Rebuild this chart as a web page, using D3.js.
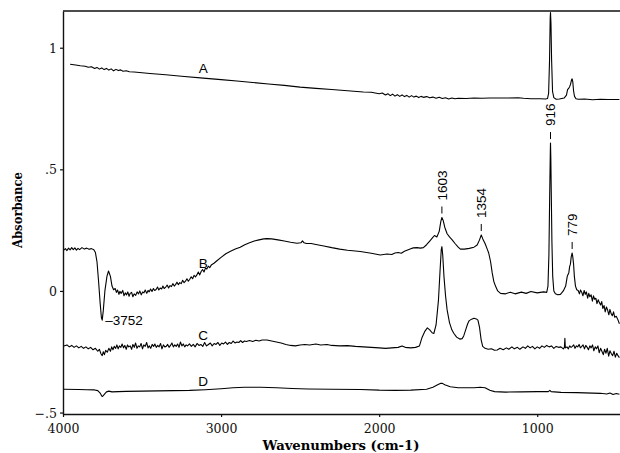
<!DOCTYPE html>
<html>
<head>
<meta charset="utf-8">
<script src="https://cdn.jsdelivr.net/npm/d3@7"></script>
<style>
  body { margin: 0; background: #fff; }
  svg { display: block; }
</style>
</head>
<body>
<svg></svg>
<script>
const width = 620,
      height = 453;

// spectra as [wavenumber, absorbance] pairs
const specA = [
  [3955,0.932],[3920,0.929],[3890,0.926],[3860,0.924],[3840,0.920],[3820,0.922],[3800,0.915],
  [3785,0.919],[3770,0.912],[3755,0.917],[3740,0.910],[3725,0.915],[3710,0.908],[3695,0.913],
  [3680,0.905],[3665,0.911],[3650,0.906],[3635,0.909],[3620,0.903],[3600,0.905],[3580,0.901],
  [3550,0.900],[3500,0.897],[3450,0.894],[3350,0.889],[3250,0.883],[3113,0.875],[3000,0.869],
  [2900,0.863],[2800,0.857],[2700,0.851],[2600,0.845],[2500,0.838],[2400,0.833],[2300,0.828],
  [2200,0.823],[2100,0.818],[2050,0.817],[2000,0.811],[1980,0.814],[1960,0.806],[1945,0.811],
  [1930,0.803],[1915,0.809],[1900,0.801],[1885,0.807],[1870,0.800],[1855,0.806],[1840,0.799],
  [1825,0.804],[1810,0.797],[1795,0.803],[1780,0.797],[1765,0.801],[1750,0.795],[1735,0.800],
  [1720,0.796],[1700,0.799],[1680,0.794],[1660,0.797],[1640,0.792],[1620,0.796],[1600,0.791],
  [1580,0.794],[1560,0.789],[1540,0.793],[1520,0.790],[1500,0.792],[1450,0.791],[1400,0.793],
  [1350,0.792],[1300,0.793],[1200,0.793],[1120,0.794],[1087,0.792],[1040,0.790],[980,0.790],
  [947,0.789],[935,0.791],[928,0.812],[922,0.950],[918,1.120],[916,1.145],[913,1.100],
  [909,0.950],[903,0.820],[895,0.795],[880,0.788],[860,0.789],[830,0.793],[815,0.805],
  [808,0.828],[800,0.834],[795,0.840],[789,0.850],[783,0.868],[779,0.872],[775,0.860],
  [770,0.822],[764,0.800],[755,0.790],[740,0.788],[700,0.789],[650,0.786],[600,0.788],
  [550,0.787],[480,0.787]
];

const specB = [
  [3995,0.168],[3985,0.174],[3975,0.166],[3965,0.176],[3955,0.169],[3945,0.178],[3935,0.170],
  [3925,0.177],[3915,0.168],[3905,0.175],[3895,0.170],[3880,0.178],[3865,0.172],[3850,0.176],
  [3835,0.171],[3820,0.174],[3805,0.169],[3795,0.158],[3785,0.120],[3775,0.040],[3765,-0.050],
  [3757,-0.110],[3752,-0.120],[3745,-0.080],[3735,0.000],[3722,0.060],[3712,0.082],[3700,0.060],
  [3690,0.020],[3680,0.005],[3670,0.010],[3662,-0.006],[3655,0.004],[3646,-0.014],[3640,-0.002],
  [3632,-0.010],[3622,0.002],[3614,-0.020],[3606,-0.008],[3598,-0.016],[3590,-0.004],[3582,-0.022],
  [3575,-0.010],[3566,-0.006],[3558,-0.024],[3550,-0.012],[3540,-0.018],[3531,-0.004],[3522,-0.012],
  [3514,0.000],[3505,-0.016],[3496,-0.004],[3488,-0.008],[3480,0.004],[3470,-0.010],[3462,0.002],
  [3455,-0.004],[3446,0.008],[3437,-0.002],[3428,0.010],[3420,0.002],[3411,0.006],[3402,0.016],
  [3394,0.004],[3385,0.012],[3376,0.008],[3368,0.020],[3360,0.010],[3350,0.016],[3341,0.024],
  [3332,0.012],[3323,0.022],[3314,0.018],[3305,0.030],[3296,0.020],[3288,0.026],[3279,0.036],
  [3270,0.026],[3261,0.034],[3252,0.030],[3243,0.044],[3234,0.034],[3225,0.040],[3216,0.050],
  [3207,0.040],[3198,0.048],[3189,0.058],[3180,0.050],[3171,0.064],[3162,0.058],[3153,0.066],
  [3144,0.078],[3135,0.066],[3126,0.080],[3117,0.088],[3108,0.078],[3099,0.094],[3090,0.090],
  [3081,0.102],[3072,0.096],[3060,0.108],[3045,0.114],[3030,0.122],[3000,0.138],[2970,0.153],
  [2940,0.163],[2910,0.172],[2879,0.180],[2850,0.190],[2820,0.198],[2790,0.205],[2760,0.210],
  [2730,0.214],[2710,0.215],[2680,0.214],[2640,0.210],[2600,0.205],[2560,0.200],[2520,0.196],
  [2495,0.198],[2485,0.206],[2475,0.198],[2460,0.195],[2430,0.195],[2400,0.191],[2350,0.185],
  [2300,0.178],[2250,0.172],[2200,0.167],[2119,0.162],[2050,0.155],[1993,0.148],[1950,0.152],
  [1920,0.150],[1900,0.156],[1880,0.158],[1860,0.155],[1840,0.163],[1820,0.168],[1800,0.173],
  [1784,0.177],[1760,0.178],[1740,0.176],[1720,0.178],[1700,0.190],[1680,0.205],[1663,0.218],
  [1650,0.228],[1635,0.222],[1620,0.245],[1610,0.285],[1603,0.302],[1595,0.290],[1585,0.262],
  [1570,0.235],[1555,0.222],[1538,0.210],[1520,0.195],[1500,0.180],[1486,0.172],[1460,0.172],
  [1430,0.175],[1400,0.180],[1380,0.189],[1365,0.210],[1354,0.230],[1345,0.215],[1330,0.195],
  [1315,0.170],[1307,0.156],[1295,0.120],[1285,0.075],[1275,0.040],[1264,0.020],[1250,0.000],
  [1232,-0.010],[1200,-0.012],[1170,-0.005],[1140,-0.012],[1100,-0.005],[1070,-0.010],[1040,-0.002],
  [1000,-0.008],[960,-0.004],[940,-0.006],[932,0.020],[926,0.150],[921,0.400],[917,0.580],
  [916,0.608],[914,0.550],[911,0.400],[907,0.200],[902,0.060],[895,0.000],[885,-0.012],
  [870,-0.016],[853,-0.014],[835,0.000],[820,0.020],[810,0.060],[800,0.075],[795,0.100],
  [790,0.110],[785,0.140],[779,0.156],[775,0.140],[770,0.110],[765,0.060],[758,0.020],[750,0.005],
  [741,0.002],[733,-0.012],[726,0.004],[718,-0.006],[711,-0.020],[703,0.002],[696,-0.014],
  [689,-0.004],[681,-0.030],[674,-0.010],[667,-0.024],[659,-0.016],[651,-0.042],[644,-0.020],
  [637,-0.034],[629,-0.030],[622,-0.052],[614,-0.036],[607,-0.048],[599,-0.058],[592,-0.044],
  [585,-0.072],[577,-0.060],[570,-0.086],[562,-0.066],[555,-0.078],[547,-0.098],[540,-0.076],
  [532,-0.094],[525,-0.102],[517,-0.086],[510,-0.108],[500,-0.104],[490,-0.118],[480,-0.135]
];

const specC = [
  [3995,-0.226],[3975,-0.222],[3960,-0.230],[3945,-0.224],[3930,-0.232],[3915,-0.226],[3900,-0.234],
  [3885,-0.228],[3870,-0.236],[3855,-0.230],[3840,-0.238],[3825,-0.232],[3810,-0.242],[3795,-0.236],
  [3780,-0.248],[3770,-0.240],[3760,-0.258],[3752,-0.266],[3745,-0.250],[3738,-0.262],[3730,-0.244],
  [3720,-0.252],[3710,-0.236],[3700,-0.248],[3692,-0.230],[3684,-0.242],[3676,-0.228],[3667,-0.236],
  [3659,-0.222],[3651,-0.238],[3643,-0.226],[3634,-0.232],[3626,-0.218],[3617,-0.234],[3609,-0.224],
  [3600,-0.240],[3592,-0.222],[3584,-0.230],[3575,-0.226],[3566,-0.240],[3558,-0.220],[3549,-0.232],
  [3541,-0.214],[3532,-0.236],[3524,-0.226],[3515,-0.230],[3506,-0.216],[3497,-0.238],[3489,-0.222],
  [3480,-0.228],[3471,-0.212],[3462,-0.234],[3454,-0.226],[3445,-0.236],[3436,-0.220],[3427,-0.228],
  [3419,-0.218],[3410,-0.232],[3401,-0.224],[3392,-0.230],[3383,-0.216],[3374,-0.238],[3365,-0.222],
  [3356,-0.230],[3347,-0.228],[3338,-0.220],[3329,-0.232],[3320,-0.224],[3311,-0.214],[3302,-0.230],
  [3293,-0.222],[3284,-0.228],[3275,-0.218],[3266,-0.232],[3257,-0.210],[3248,-0.226],[3239,-0.218],
  [3230,-0.230],[3221,-0.222],[3212,-0.226],[3200,-0.218],[3188,-0.228],[3176,-0.220],[3164,-0.230],
  [3152,-0.216],[3140,-0.224],[3128,-0.220],[3116,-0.228],[3104,-0.212],[3092,-0.226],[3080,-0.220],
  [3068,-0.214],[3056,-0.226],[3044,-0.216],[3032,-0.220],[3020,-0.212],[3008,-0.224],[2996,-0.214],
  [2984,-0.218],[2972,-0.210],[2960,-0.220],[2948,-0.212],[2936,-0.216],[2924,-0.206],[2912,-0.214],
  [2900,-0.210],[2888,-0.212],[2876,-0.204],[2864,-0.212],[2852,-0.206],[2840,-0.208],[2820,-0.204],
  [2800,-0.208],[2780,-0.203],[2760,-0.206],[2740,-0.202],[2710,-0.202],[2680,-0.206],[2650,-0.210],
  [2620,-0.214],[2590,-0.220],[2560,-0.224],[2530,-0.226],[2500,-0.222],[2470,-0.220],[2440,-0.222],
  [2400,-0.218],[2370,-0.222],[2330,-0.220],[2300,-0.224],[2250,-0.226],[2200,-0.225],[2150,-0.228],
  [2100,-0.230],[2050,-0.232],[2000,-0.234],[1960,-0.236],[1920,-0.234],[1880,-0.232],[1855,-0.226],
  [1835,-0.232],[1800,-0.234],[1770,-0.232],[1745,-0.226],[1728,-0.190],[1710,-0.165],[1695,-0.152],
  [1680,-0.160],[1665,-0.172],[1654,-0.175],[1640,-0.140],[1625,-0.040],[1615,0.080],[1607,0.170],
  [1603,0.182],[1598,0.150],[1590,0.060],[1580,-0.020],[1570,-0.078],[1555,-0.130],[1540,-0.160],
  [1528,-0.174],[1510,-0.190],[1490,-0.198],[1475,-0.196],[1465,-0.185],[1450,-0.155],[1440,-0.135],
  [1430,-0.122],[1415,-0.116],[1400,-0.112],[1385,-0.115],[1375,-0.120],[1365,-0.150],[1355,-0.200],
  [1345,-0.228],[1330,-0.236],[1310,-0.240],[1290,-0.238],[1270,-0.244],[1253,-0.243],[1235,-0.236],
  [1215,-0.242],[1195,-0.234],[1180,-0.240],[1160,-0.230],[1145,-0.238],[1125,-0.232],[1110,-0.240],
  [1090,-0.230],[1075,-0.236],[1060,-0.226],[1045,-0.234],[1030,-0.228],[1015,-0.238],[1000,-0.230],
  [985,-0.236],[970,-0.226],[955,-0.232],[940,-0.224],[925,-0.230],[910,-0.226],[895,-0.236],
  [880,-0.228],[865,-0.232],[850,-0.230],[835,-0.238],[828,-0.232],[825,-0.195],[822,-0.234],
  [812,-0.230],[803,-0.238],[795,-0.226],[786,-0.232],[778,-0.228],[769,-0.222],[761,-0.236],
  [752,-0.226],[744,-0.230],[735,-0.220],[727,-0.234],[718,-0.228],[710,-0.222],[701,-0.238],
  [693,-0.224],[684,-0.232],[676,-0.242],[667,-0.226],[659,-0.234],[650,-0.222],[642,-0.246],
  [633,-0.230],[625,-0.238],[616,-0.226],[608,-0.254],[599,-0.236],[591,-0.248],[582,-0.262],
  [574,-0.240],[565,-0.256],[557,-0.236],[548,-0.268],[540,-0.246],[531,-0.258],[523,-0.266],
  [514,-0.248],[506,-0.272],[497,-0.256],[489,-0.266],[480,-0.274]
];

const specD = [
  [3995,-0.404],[3900,-0.405],[3850,-0.406],[3800,-0.407],[3780,-0.410],[3765,-0.420],[3755,-0.432],
  [3750,-0.434],[3740,-0.426],[3725,-0.415],[3710,-0.412],[3690,-0.415],[3650,-0.414],[3600,-0.413],
  [3500,-0.412],[3400,-0.411],[3300,-0.410],[3200,-0.409],[3100,-0.406],[3000,-0.402],[2924,-0.398],
  [2850,-0.396],[2750,-0.396],[2650,-0.398],[2550,-0.401],[2450,-0.403],[2300,-0.404],[2119,-0.405],
  [2000,-0.408],[1900,-0.409],[1800,-0.408],[1700,-0.404],[1660,-0.396],[1630,-0.386],[1610,-0.380],
  [1600,-0.380],[1585,-0.386],[1550,-0.394],[1500,-0.398],[1450,-0.398],[1400,-0.398],[1360,-0.396],
  [1330,-0.398],[1300,-0.408],[1270,-0.414],[1200,-0.416],[1100,-0.415],[1000,-0.414],[930,-0.414],
  [920,-0.409],[912,-0.414],[850,-0.417],[750,-0.418],[700,-0.419],[650,-0.420],[600,-0.421],
  [560,-0.424],[540,-0.420],[520,-0.426],[500,-0.422],[480,-0.425]
];

const xTicks = [4000, 3000, 2000, 1000];
const yTicks = [-0.5, 0, 0.5, 1];
const yTickLabels = ['\u2212.5', '0', '.5', '1'];

// curve letters: [letter, wavenumber, absorbance]
const curveLabels = [['A', 3113, 0.917], ['B', 3113, 0.115], ['C', 3113, -0.181], ['D', 3113, -0.370]];
// band labels on trace B: [text, wavenumber, absorbance]
const bandLabels = [['1603', 1603, 0.302], ['1354', 1354, 0.230], ['916', 916, 0.608], ['779', 779, 0.156]];
const troughLabel = ['3752', 3752, -0.120];

const x = d3.scaleLinear().domain([4000, 470]).range([63, 621]);
const y = d3.scaleLinear().domain([-0.506, 1.151]).range([414, 11]);

const svg = d3.select('svg')
  .attr('width', width)
  .attr('height', height);

// axes
const xAxis = svg.append('g')
  .attr('transform', 'translate(0,' + y.range()[0] + ')')
  .call(d3.axisBottom(x).tickValues(xTicks).tickSize(3).tickSizeOuter(0).tickFormat(d3.format('d')));

const yAxis = svg.append('g')
  .attr('transform', 'translate(' + x.range()[0] + ',0)')
  .call(d3.axisLeft(y).tickValues(yTicks).tickSize(3).tickSizeOuter(0)
    .tickFormat((d, i) => yTickLabels[i]));

[xAxis, yAxis].forEach(g => {
  g.select('.domain').attr('stroke', '#111').attr('stroke-width', 1.4);
  g.selectAll('.tick line').attr('stroke', '#111').attr('stroke-width', 1.2);
  g.selectAll('.tick text')
    .attr('fill', '#111')
    .style('font-family', '"DejaVu Serif", serif')
    .style('font-size', '12.5px');
});
xAxis.selectAll('.tick text').attr('dy', '1.05em');
yAxis.selectAll('.tick text').attr('x', -6).attr('dy', '0.36em');

// top frame line
svg.append('line')
  .attr('x1', x.range()[0]).attr('x2', x.range()[1])
  .attr('y1', y.range()[1]).attr('y2', y.range()[1])
  .attr('stroke', '#111')
  .attr('stroke-width', 1.4);

// axis titles
svg.append('text')
  .attr('x', 341).attr('y', 450)
  .attr('text-anchor', 'middle')
  .attr('textLength', 157)
  .attr('lengthAdjust', 'spacingAndGlyphs')
  .style('font-family', '"DejaVu Serif", serif')
  .style('font-weight', 'bold')
  .style('font-size', '12.5px')
  .text('Wavenumbers (cm-1)');

svg.append('text')
  .attr('transform', 'translate(22,210) rotate(-90)')
  .attr('text-anchor', 'middle')
  .attr('textLength', 76)
  .attr('lengthAdjust', 'spacingAndGlyphs')
  .style('font-family', '"DejaVu Serif", serif')
  .style('font-weight', 'bold')
  .style('font-size', '12.5px')
  .text('Absorbance');

// spectra
const line = d3.line()
  .x(d => x(d[0]))
  .y(d => y(d[1]));

svg.append('g')
  .selectAll('path')
  .data([specA, specB, specC, specD])
  .enter().append('path')
  .attr('fill', 'none')
  .attr('stroke', '#000')
  .attr('stroke-width', 1.1)
  .attr('stroke-linejoin', 'round')
  .attr('d', line);

// curve letters
svg.append('g')
  .selectAll('text')
  .data(curveLabels)
  .enter().append('text')
  .attr('x', d => x(d[1]))
  .attr('y', d => y(d[2]))
  .attr('dy', '0.36em')
  .attr('text-anchor', 'middle')
  .style('font-family', '"Liberation Sans", Arial, sans-serif')
  .style('font-size', '13.5px')
  .text(d => d[0]);

// band labels
const bands = svg.append('g')
  .selectAll('g')
  .data(bandLabels)
  .enter().append('g')
  .attr('transform', d => 'translate(' + x(d[1]) + ',' + y(d[2]) + ')');

bands.append('line')
  .attr('x1', 0).attr('x2', 0)
  .attr('y1', -4).attr('y2', -11)
  .attr('stroke', '#000')
  .attr('stroke-width', 1);

bands.append('text')
  .attr('transform', 'translate(0,-17) rotate(-90)')
  .attr('dy', '0.36em')
  .style('font-family', '"Liberation Sans", Arial, sans-serif')
  .style('font-size', '13.5px')
  .text(d => d[0]);

svg.append('text')
  .attr('x', x(troughLabel[1]) + 3)
  .attr('y', y(troughLabel[2]))
  .attr('dy', '0.36em')
  .style('font-family', '"Liberation Sans", Arial, sans-serif')
  .style('font-size', '13.5px')
  .text('\u2013' + troughLabel[0]);
</script>
</body>
</html>
